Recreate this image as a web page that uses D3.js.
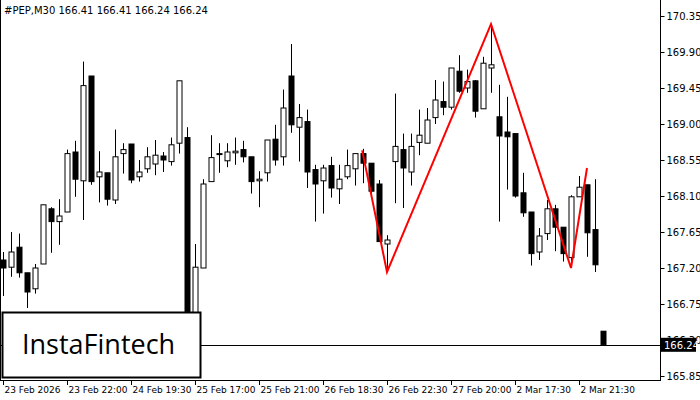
<!DOCTYPE html>
<html><head><meta charset="utf-8">
<script src="https://cdn.jsdelivr.net/npm/d3@7"></script>
<style>body{margin:0;background:#fff}svg{display:block}</style>
</head><body><svg id="c" width="700" height="400"></svg>
<script>
const opens=[167.30,167.21,167.46,167.14,166.94,167.25,167.94,167.78,167.90,168.65,168.29,169.60,168.34,168.39,168.05,168.63,168.75,168.34,168.44,168.50,168.60,168.53,168.76,168.83,166.40,167.20,168.28,168.62,168.54,168.64,168.68,168.59,168.29,168.39,168.81,168.59,169.60,168.96,169.03,168.43,168.29,168.48,168.19,168.34,168.44,168.63,168.51,168.25,167.50,168.53,168.68,168.40,168.77,168.76,169.08,169.28,169.21,169.66,169.45,169.54,169.19,169.70,169.09,168.90,168.88,168.14,167.90,167.40,167.63,167.94,167.71,167.33,168.09,168.24,167.68,166.41];
const highs=[167.40,167.65,167.63,167.14,167.25,167.99,167.96,168.06,168.68,168.79,169.78,169.60,168.66,168.39,168.93,168.76,168.75,168.55,168.71,168.80,168.65,168.83,169.54,168.96,167.50,168.31,168.86,168.76,168.76,168.83,168.79,168.59,168.41,168.80,168.99,169.43,170.00,169.25,169.18,168.49,168.49,168.59,168.49,168.68,168.63,168.69,168.51,168.30,167.61,169.38,168.88,168.88,169.18,169.20,169.55,169.53,169.70,169.86,169.68,169.55,169.84,170.21,169.49,169.34,168.88,168.39,167.90,167.70,168.05,167.99,167.71,168.11,168.35,168.24,168.31,166.41];
const lows=[166.85,167.09,167.08,166.70,166.88,167.25,167.39,167.49,167.90,168.09,167.80,168.24,168.02,167.98,168.00,168.38,168.26,168.28,168.39,168.36,168.40,168.48,168.63,166.25,166.30,167.20,168.28,168.39,168.46,168.49,168.52,168.13,167.96,168.28,168.48,168.48,168.89,168.53,168.20,167.78,167.88,168.08,168.00,168.31,168.23,168.26,168.09,167.53,167.15,168.01,167.95,168.23,168.61,168.76,169.00,169.11,169.18,169.39,169.39,169.08,169.19,169.39,167.78,168.18,168.08,167.84,167.23,167.30,167.55,167.41,167.28,167.26,168.09,167.34,167.15,166.24];
const closes=[167.20,167.40,167.14,166.90,167.20,167.99,167.78,167.85,168.63,168.31,169.48,168.28,168.40,168.06,168.59,168.68,168.30,168.40,168.59,168.61,168.55,168.74,169.54,166.30,167.21,168.25,168.58,168.63,168.65,168.66,168.59,168.28,168.31,168.80,168.55,169.20,168.99,169.08,168.40,168.25,168.45,168.20,168.31,168.48,168.63,168.51,168.16,167.53,167.55,168.72,168.45,168.72,168.86,169.05,169.30,169.21,169.70,169.41,169.53,169.16,169.76,169.74,168.85,168.84,168.10,167.89,167.38,167.60,167.94,167.71,167.38,168.09,168.21,167.64,167.24,166.24];
const priceTicks=["170.35","169.90","169.45","169.00","168.55","168.10","167.65","167.20","166.75","166.30","165.85"];
const timeLabels=["23 Feb 2026","23 Feb 22:00","24 Feb 19:30","25 Feb 17:00","25 Feb 21:00","26 Feb 18:30","26 Feb 22:30","27 Feb 20:00","2 Mar 17:30","2 Mar 21:30"];
const patternIdx=[44.9,48,61,71,73];
const patternPrice=[168.67,167.15,170.25,167.20,168.45];
const lastPrice=166.24;

const svg=d3.select("#c");
const x=d3.scaleLinear().domain([0,1]).range([3,11]);
const y=d3.scaleLinear().domain([165.85,170.35]).range([376,16]);
const font="Tahoma, 'DejaVu Sans', sans-serif";
const g=svg.append("g");
opens.forEach((o,i)=>{
  const c=closes[i],bull=c>=o,cx=Math.round(x(i))+0.5;
  g.append("line").attr("x1",cx).attr("x2",cx).attr("y1",y(highs[i])).attr("y2",y(lows[i])).attr("stroke","#000").attr("stroke-width",1);
  const top=y(Math.max(o,c)),bot=y(Math.min(o,c));
  g.append("rect").attr("x",cx-2.5).attr("y",top).attr("width",5).attr("height",Math.max(bot-top,1))
   .attr("fill",bull?"#fff":"#000").attr("stroke","#000").attr("stroke-width",1);
});
svg.append("path").attr("d",d3.line().x(d=>x(d[0])).y(d=>y(d[1]))(patternIdx.map((v,i)=>[v,patternPrice[i]])))
  .attr("fill","none").attr("stroke","#f00").attr("stroke-width",2);
svg.append("line").attr("x1",0).attr("x2",660).attr("y1",Math.round(y(lastPrice))+0.5).attr("y2",Math.round(y(lastPrice))+0.5).attr("stroke","#000");
svg.append("line").attr("x1",660.5).attr("x2",660.5).attr("y1",0).attr("y2",380).attr("stroke","#000");
svg.append("line").attr("x1",0).attr("x2",661).attr("y1",380.5).attr("y2",380.5).attr("stroke","#000");
svg.append("line").attr("x1",0.5).attr("x2",0.5).attr("y1",0).attr("y2",380).attr("stroke","#000");
const pa=svg.append("g").attr("transform","translate(660.5,0)");
pa.call(d3.axisRight(y).tickValues(priceTicks.map(Number)).tickFormat(d=>d.toFixed(2)).tickSize(4).tickSizeOuter(0));
pa.select(".domain").remove();
pa.selectAll("text").attr("font-family",font).attr("font-size",10).attr("fill","#000").attr("x",6);
pa.selectAll("line").attr("stroke","#000");
svg.append("rect").attr("x",661).attr("y",y(lastPrice)-7).attr("width",35).attr("height",14).attr("fill","#000");
svg.append("text").attr("x",664).attr("y",y(lastPrice)+4).attr("font-family",font).attr("font-size",10).attr("fill","#fff").text(lastPrice.toFixed(2));
timeLabels.forEach((t,k)=>{
  const tx=Math.round(x(k*8))+0.5;
  svg.append("line").attr("x1",tx).attr("x2",tx).attr("y1",380).attr("y2",385).attr("stroke","#000");
  svg.append("text").attr("x",tx+1).attr("y",393).attr("font-family",font).attr("font-size",9).attr("fill","#000").text(t);
});
svg.append("text").attr("x",4).attr("y",14).attr("font-family",font).attr("font-size",10).attr("fill","#000")
  .text("#PEP,M30  166.41 166.41 166.24 166.24");
svg.append("rect").attr("x",2.5).attr("y",312.5).attr("width",198).attr("height",65).attr("fill","#fff").attr("stroke","#000").attr("stroke-width",2);
svg.append("text").attr("x",22).attr("y",354).attr("font-family","'Open Sans', sans-serif").attr("font-size",27).attr("fill","#000").text("InstaFintech");
</script></body></html>
